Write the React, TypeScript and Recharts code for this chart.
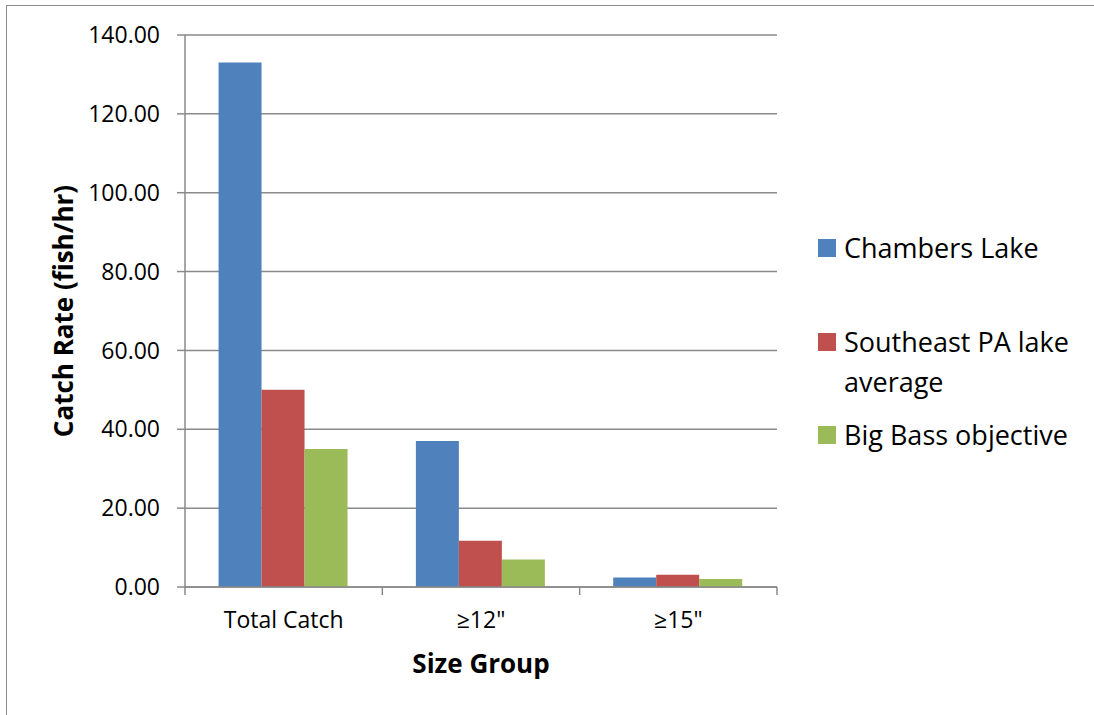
import { BarChart, Bar, XAxis, YAxis, CartesianGrid } from "recharts";

const CATEGORIES = ["Total Catch", "≥12\"", "≥15\""];
const CHAMBERS = [133, 37, 2.4];
const SOUTHEAST = [50, 11.7, 3.1];
const BIG_BASS = [35, 7, 2];
const Y_TICKS = [0, 20, 40, 60, 80, 100, 120, 140];

const SERIES = [
  { key: "chambers", name: "Chambers Lake", lines: ["Chambers Lake"], color: "#4F81BD", values: CHAMBERS },
  { key: "southeast", name: "Southeast PA lake average", lines: ["Southeast PA lake", "average"], color: "#C0504D", values: SOUTHEAST },
  { key: "bigbass", name: "Big Bass objective", lines: ["Big Bass objective"], color: "#9BBB59", values: BIG_BASS },
];

const data = CATEGORIES.map((cat, i) => {
  const row: Record<string, string | number> = { cat };
  SERIES.forEach(s => { row[s.key] = s.values[i]; });
  return row;
});

// layout
const W = 1094;
const H = 715;
const PLOT_LEFT = 185;
const PLOT_RIGHT = 777;
const PLOT_TOP = 35;
const PLOT_BOTTOM = 587;
const X_AXIS_H = 90;
const BAND = (PLOT_RIGHT - PLOT_LEFT) / CATEGORIES.length;
const LINE = "#8a8a8a";
const FONT = "'Open Sans', sans-serif";
const LEGEND_TOPS = [228, 322, 415];

const XTick = (props: any) => {
  const { x, payload, index } = props;
  const half = BAND / 2;
  return (
    <g>
      <line x1={x - half} x2={x - half} y1={PLOT_BOTTOM} y2={PLOT_BOTTOM + 8} stroke={LINE} strokeWidth={1.5} />
      {index === CATEGORIES.length - 1 && (
        <line x1={x + half} x2={x + half} y1={PLOT_BOTTOM} y2={PLOT_BOTTOM + 8} stroke={LINE} strokeWidth={1.5} />
      )}
      <text x={x} y={PLOT_BOTTOM + 41} textAnchor="middle" fontSize={23} fontFamily={FONT} fill="#000">
        {payload.value}
      </text>
    </g>
  );
};

export default function App() {
  return (
    <div style={{ position: "absolute", left: 0, top: 0, width: W, height: H, background: "#fff", overflow: "hidden" }}>
      <div style={{ position: "absolute", left: 6, top: 5, width: W + 20, height: H + 20, border: "1.5px solid #8c8c8c" }} />
      <BarChart
        width={W}
        height={H}
        data={data}
        margin={{ top: PLOT_TOP, right: W - PLOT_RIGHT, bottom: H - PLOT_BOTTOM - X_AXIS_H, left: 0 }}
        barCategoryGap="17%"
        barGap={0}
      >
        <CartesianGrid vertical={false} stroke={LINE} strokeWidth={1.5} />
        <XAxis
          dataKey="cat"
          height={X_AXIS_H}
          axisLine={{ stroke: LINE, strokeWidth: 1.5 }}
          tickLine={false}
          tick={<XTick />}
          interval={0}
          label={() => (
            <text x={(PLOT_LEFT + PLOT_RIGHT) / 2} y={673} textAnchor="middle" fontSize={26} fontWeight="bold" fontFamily={FONT} fill="#000">
              Size Group
            </text>
          )}
        />
        <YAxis
          width={PLOT_LEFT}
          domain={[0, 140]}
          ticks={Y_TICKS}
          tickFormatter={(v: number) => v.toFixed(2)}
          axisLine={{ stroke: LINE, strokeWidth: 1.5 }}
          tickLine={{ stroke: LINE, strokeWidth: 1.5 }}
          tickSize={8}
          tickMargin={17}
          tick={{ fontSize: 23, fill: "#000", fontFamily: FONT }}
          label={() => (
            <text
              x={63}
              y={(PLOT_TOP + PLOT_BOTTOM) / 2}
              transform={`rotate(-90, 63, ${(PLOT_TOP + PLOT_BOTTOM) / 2})`}
              textAnchor="middle"
              dominantBaseline="central"
              fontSize={26}
              fontWeight="bold"
              fontFamily={FONT}
              fill="#000"
            >
              Catch Rate (fish/hr)
            </text>
          )}
        />
        {SERIES.map(s => (
          <Bar key={s.key} dataKey={s.key} name={s.name} fill={s.color} isAnimationActive={false} />
        ))}
      </BarChart>
      {SERIES.map((s, i) => (
        <div key={s.key} style={{ position: "absolute", left: 818, top: LEGEND_TOPS[i], fontFamily: FONT, fontSize: 27, lineHeight: "40px", color: "#000" }}>
          <span style={{ position: "absolute", left: 0, top: 11, width: 18, height: 18, background: s.color }} />
          <div style={{ marginLeft: 26, whiteSpace: "nowrap" }}>
            {s.lines.map(l => <div key={l}>{l}</div>)}
          </div>
        </div>
      ))}
    </div>
  );
}
